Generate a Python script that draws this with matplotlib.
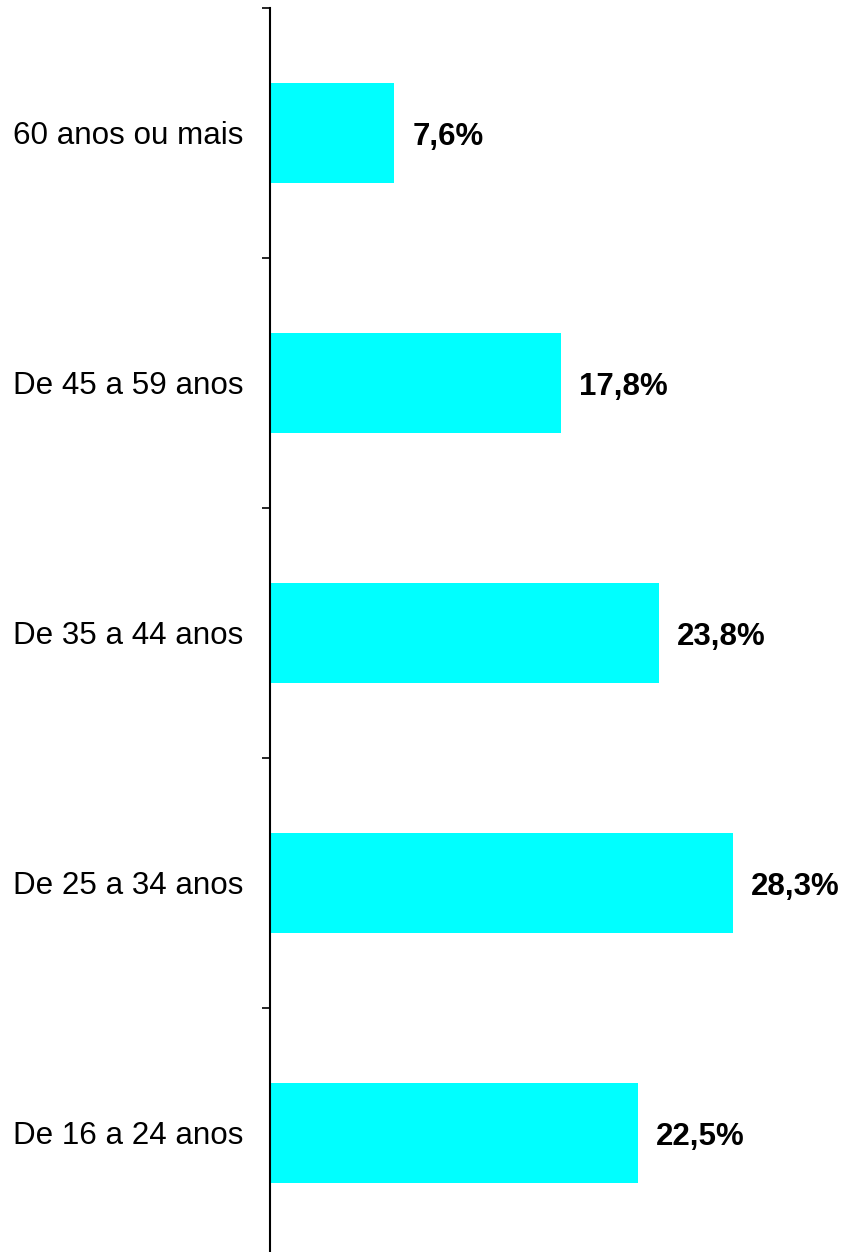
import matplotlib
matplotlib.use("Agg")
import matplotlib.pyplot as plt
import numpy as np

plt.rcParams['font.family'] = ['Liberation Sans', 'DejaVu Sans']

# Data (bottom to top)
categories = ["De 16 a 24 anos", "De 25 a 34 anos", "De 35 a 44 anos",
              "De 45 a 59 anos", "60 anos ou mais"]
values = [22.5, 28.3, 23.8, 17.8, 7.6]
value_labels = ["22,5%", "28,3%", "23,8%", "17,8%", "7,6%"]

W, H = 851, 1252
fig = plt.figure(figsize=(W / 100, H / 100), dpi=100)
ax = fig.add_axes([270 / W, -6 / H, (W - 270) / W, 1250 / H])

y = np.arange(len(categories))
ax.barh(y, values, height=0.4, color="#00FFFF", edgecolor="none")

for yi, v, lab in zip(y, values, value_labels):
    ax.annotate(lab, xy=(v, yi), xytext=(13, -3), textcoords="offset points",
                ha="left", va="center", fontsize=22.5, fontweight="bold")

ax.set_xlim(0, (W - 270) / 16.35)
ax.set_ylim(-0.5, len(categories) - 0.5)

# category labels without tick marks, boundary ticks as minor
ax.set_yticks(y)
ax.set_yticklabels(categories, fontsize=22.6)
ax.tick_params(axis="y", which="major", length=0, pad=19)
for t in ax.get_yticklabels():
    t.set_y(-0.002)
ax.set_yticks(np.arange(len(categories) + 1) - 0.5, minor=True)
ax.tick_params(axis="y", which="minor", length=6, width=1.2, direction="out")

ax.set_xticks([])
for s in ["top", "right", "bottom"]:
    ax.spines[s].set_visible(False)
ax.spines["left"].set_linewidth(1.5)

fig.savefig("out.png", dpi=100)
